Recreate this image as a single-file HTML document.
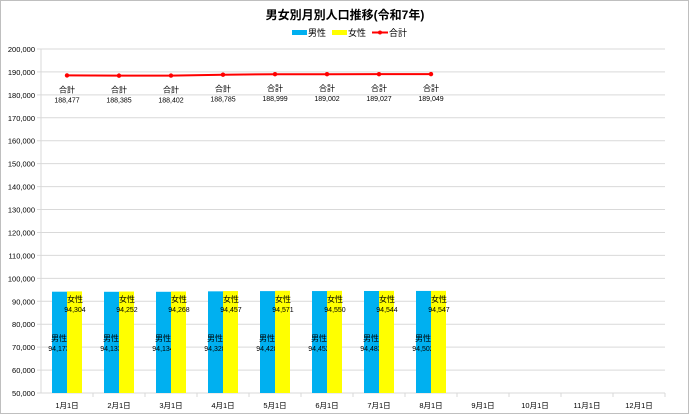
<!DOCTYPE html>
<html><head><meta charset="utf-8">
<style>
html,body{margin:0;padding:0;background:#fff;}
#wrap{position:relative;width:690px;height:415px;}
svg text{font-family:"Liberation Sans","Noto Sans CJK JP",sans-serif;}
</style></head>
<body>
<div id="wrap">
<svg id="c" width="690" height="415" xmlns="http://www.w3.org/2000/svg">
<rect x="0.5" y="0.5" width="688" height="413" fill="#fff" stroke="#bfbfbf"/>
<text x="345" y="19" text-anchor="middle" font-size="12" font-weight="bold" fill="#000">男女別月別人口推移(令和7年)</text>
<g>
<rect x="292" y="30" width="15" height="5" fill="#00b0f0"/>
<text x="308" y="36" font-size="9">男性</text>
<rect x="332" y="30" width="15" height="5" fill="#ffff00"/>
<text x="348" y="36" font-size="9">女性</text>
<line x1="372" y1="32.5" x2="388" y2="32.5" stroke="#ff0000" stroke-width="2"/>
<circle cx="380" cy="32.5" r="2" fill="#ff0000"/>
<text x="389" y="36" font-size="9">合計</text>
</g>
</svg>
</div>
<script>
const categories=["1月1日","2月1日","3月1日","4月1日","5月1日","6月1日","7月1日","8月1日","9月1日","10月1日","11月1日","12月1日"];
const male=[94173,94133,94134,94328,94428,94452,94483,94502];
const female=[94304,94252,94268,94457,94571,94550,94544,94547];
const total=[188477,188385,188402,188785,188999,189002,189027,189049];
const yTicks=[50000,60000,70000,80000,90000,100000,110000,120000,130000,140000,150000,160000,170000,180000,190000,200000];
const yMin=50000,yMax=200000;
const L=41,R=665,T=49,B=393;
const svg=document.getElementById('c');
const NS='http://www.w3.org/2000/svg';
const cw=(R-L)/categories.length;
function y(v){return B-(v-yMin)/(yMax-yMin)*(B-T);}
function cx(i){return L+cw*(i+0.5);}
function mk(tag,attrs,parent){const e=document.createElementNS(NS,tag);for(const k in attrs)e.setAttribute(k,attrs[k]);(parent||svg).appendChild(e);return e;}
function fmt(v){return v.toLocaleString('en-US');}
const grid=mk('g',{});


yTicks.forEach(v=>{
  const ln=mk('line',{x1:L-4,x2:R,y1:y(v),y2:y(v),stroke:'#d9d9d9','stroke-width':1},grid);
  
  
  const t=mk('text',{x:L-6,y:y(v)+3,'text-anchor':'end','font-size':'7.5',fill:'#000'},grid);
  t.textContent=fmt(v);
  
  
});
const ax=mk('line',{x1:L,x2:L,y1:T,y2:B,stroke:'#d9d9d9'});


const xa=mk('line',{x1:L,x2:R,y1:B,y2:B,stroke:'#d9d9d9'});


categories.forEach((c,i)=>{
  const tk=mk('line',{x1:L+cw*(i+1),x2:L+cw*(i+1),y1:B,y2:B+4,stroke:'#d9d9d9'});
  
  
  const t=mk('text',{x:cx(i),y:B+15,'text-anchor':'middle','font-size':'7.5'});
  t.textContent=c;
  
  
});
const bw=15;
male.forEach((v,i)=>{
  const r=mk('rect',{x:cx(i)-bw,y:y(v),width:bw,height:B-y(v),fill:'#00b0f0'});
  
  
  const t1=mk('text',{x:cx(i)-8,y:341,'text-anchor':'middle','font-size':'8'});
  t1.textContent='男性';
  
  
  const t2=mk('text',{x:cx(i)-8,y:351,'text-anchor':'middle','font-size':'7'});
  t2.textContent=fmt(v);
  
  
});
female.forEach((v,i)=>{
  const r=mk('rect',{x:cx(i),y:y(v),width:bw,height:B-y(v),fill:'#ffff00'});
  
  
  const t1=mk('text',{x:cx(i)+8,y:302,'text-anchor':'middle','font-size':'8'});
  t1.textContent='女性';
  
  
  const t2=mk('text',{x:cx(i)+8,y:312,'text-anchor':'middle','font-size':'7'});
  t2.textContent=fmt(v);
  
  
});
const pts=total.map((v,i)=>cx(i)+','+y(v)).join(' ');
const pl=mk('polyline',{points:pts,fill:'none',stroke:'#ff0000','stroke-width':2});


total.forEach((v,i)=>{
  const c=mk('circle',{cx:cx(i),cy:y(v),r:2.2,fill:'#ff0000'});
  
  
  const t1=mk('text',{x:cx(i),y:y(v)+17,'text-anchor':'middle','font-size':'8'});
  t1.textContent='合計';
  
  
  const t2=mk('text',{x:cx(i),y:y(v)+27,'text-anchor':'middle','font-size':'7'});
  t2.textContent=fmt(v);
  
  
});
</script>
</body></html>
